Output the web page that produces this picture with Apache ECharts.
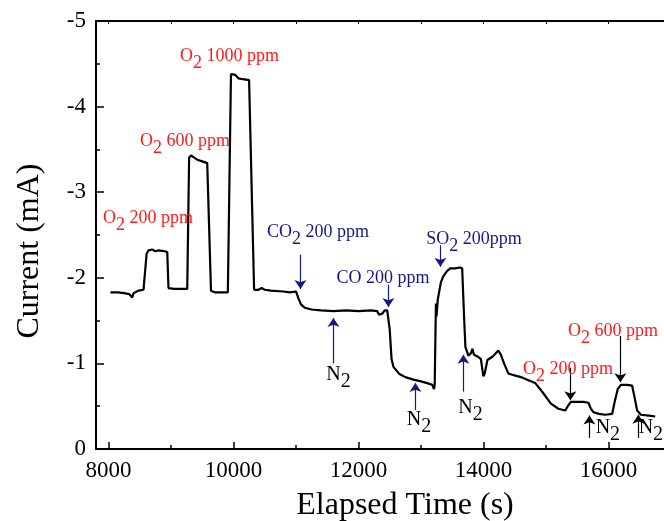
<!DOCTYPE html>
<html>
<head>
<meta charset="utf-8">
<script src="https://cdn.jsdelivr.net/npm/echarts@6/dist/echarts.min.js"></script>
<style>
html, body { margin: 0; padding: 0; background: #fff; }
#chart { width: 664px; height: 521px; }
</style>
</head>
<body>
<div id="chart"></div>
<script>
// elapsed time (s) and current (mA)
const timeS = [
  8030, 8150, 8250, 8330, 8380, 8400, 8480, 8560, 8590, 8610, 8640, 8700, 8750, 8800, 8900, 8940,
  8960, 9050, 9150, 9260, 9290, 9320, 9360, 9420, 9500, 9580, 9610, 9640, 9700, 9800, 9910,
  9960, 9990, 10030, 10080, 10150, 10250, 10280, 10330, 10400, 10450, 10500, 10600, 10800, 10900,
  11000, 11040, 11080, 11140, 11250, 11400, 11600, 11800, 12000, 12200, 12300, 12330, 12380, 12420,
  12460, 12500, 12530, 12560, 12650, 12750, 12880, 13000, 13100, 13180, 13210, 13220, 13240, 13250,
  13270, 13320, 13360, 13420, 13470, 13550, 13620, 13660, 13690, 13712, 13760, 13800, 13824, 13850,
  13920, 13960, 13985, 14000, 14020, 14064, 14150, 14200, 14240, 14280, 14330, 14400, 14450, 14500,
  14600, 14700, 14830, 14950, 15080, 15200, 15310, 15350, 15400, 15450, 15600, 15680, 15720, 15760,
  15850, 15950, 16060, 16100, 16150, 16200, 16300, 16380, 16420, 16460, 16520, 16650, 16750
];
const currentMA = [
  -1.83, -1.83, -1.82, -1.81, -1.77, -1.82, -1.85, -1.86, -1.87, -2.28, -2.32, -2.33, -2.31, -2.32, -2.31, -2.30,
  -1.88, -1.87, -1.87, -1.87, -3.40, -3.43, -3.41, -3.38, -3.36, -3.34, -3.33, -1.85, -1.83, -1.83, -1.83,
  -4.38, -4.40, -4.37, -4.33, -4.32, -4.31, -4.30, -1.86, -1.86, -1.88, -1.86, -1.85, -1.84, -1.83,
  -1.84, -1.76, -1.69, -1.65, -1.63, -1.62, -1.61, -1.62, -1.61, -1.62, -1.61, -1.57, -1.58, -1.62,
  -1.62, -1.40, -1.05, -0.96, -0.88, -0.84, -0.81, -0.79, -0.77, -0.75, -0.70, -0.74, -1.70, -1.55,
  -1.75, -1.95, -2.02, -2.08, -2.11, -2.11, -2.12, -2.11, -1.55, -1.19, -1.09, -1.12, -1.17, -1.10,
  -1.075, -1.05, -0.92, -0.85, -0.88, -1.04, -1.08, -1.12, -1.15, -1.10, -1.00, -0.88, -0.87, -0.86,
  -0.84, -0.81, -0.77, -0.66, -0.53, -0.47, -0.45, -0.50, -0.55, -0.55, -0.55, -0.54, -0.47, -0.43,
  -0.41, -0.40, -0.41, -0.55, -0.70, -0.75, -0.75, -0.74, -0.60, -0.45, -0.40, -0.39, -0.38
];

const yTicks = [-5, -4, -3, -2, -1, 0];
const xMajor = [8000, 10000, 12000, 14000, 16000];
const xMinor = [9000, 11000, 13000, 15000];

// gas labels: name, subscript, rest of text
const gasName = ['O', 'O', 'O', 'CO', 'CO', 'SO', 'O', 'O'];
const gasSub = ['2', '2', '2', '2', '', '2', '2', '2'];
const gasRest = [' 200 ppm', ' 600 ppm', ' 1000 ppm', ' 200 ppm', 'CO 200 ppm', ' 200ppm', ' 200 ppm', ' 600 ppm'];
const gasX = [8632, 9224, 9936, 11352, 12392, 13848, 15352, 16072];
const gasY = [-2.69, -3.59, -4.59, -2.53, -2.00, -2.45, -0.935, -1.38];
const gasBlue = [0, 0, 0, 1, 1, 1, 0, 0];

// N2 labels
const n2X = [11680, 12968, 13792, 15992, 16680];
const n2Y = [-0.865, -0.345, -0.485, -0.25, -0.25];

// arrows: time, start and tip current
const arrowX = [11072, 12480, 13312, 11600, 12912, 13680, 15392, 16192, 15696, 16480];
const arrowFrom = [-2.27, -1.92, -2.38, -1.0, -0.455, -0.67, -0.95, -1.32, -0.13, -0.13];
const arrowTo = [-1.87, -1.66, -2.13, -1.53, -0.77, -1.10, -0.57, -0.78, -0.39, -0.40];
const arrowBlue = [1, 1, 1, 1, 1, 1, 0, 0, 0, 0];

const FONT = '"Liberation Serif", "Times New Roman", serif';
const RED = '#ff1a1a';
const BLUE = '#16168a';

const chart = echarts.init(document.getElementById('chart'));

const seriesData = timeS.map((t, i) => [t, currentMA[i]]);

const labelPoints = gasX.map((x, i) => {
  const text = gasSub[i]
    ? '{m|' + gasName[i] + '}{s|' + gasSub[i] + '}{m|' + gasRest[i] + '}'
    : '{m|' + gasRest[i] + '}';
  return {
    coord: [x, gasY[i]],
    label: { formatter: text, color: gasBlue[i] ? BLUE : RED }
  };
}).concat(n2X.map((x, i) => ({
  coord: [x, n2Y[i]],
  label: { formatter: '{n|N}{ns|2}', color: '#000' }
})));

const arrows = arrowX.map((x, i) => [
  { coord: [x, arrowFrom[i]], lineStyle: { color: arrowBlue[i] ? BLUE : '#000' } },
  { coord: [x, arrowTo[i]] }
]);

const option = {
  animation: false,
  grid: { left: 96, right: 0, top: 21, bottom: 72, outerBoundsMode: 'none' },
  xAxis: [
    {
      type: 'value',
      position: 'bottom',
      min: 7800,
      max: 16890,
      name: 'Elapsed Time (s)',
      nameLocation: 'middle',
      nameGap: 41,
      nameTextStyle: { fontFamily: FONT, fontSize: 32, color: '#000', padding: [0, 0, 0, 50] },
      axisLine: { lineStyle: { color: '#000', width: 2 } },
      axisTick: { inside: true, length: 7, customValues: xMajor, lineStyle: { color: '#000', width: 1.5 } },
      axisLabel: {
        customValues: xMajor, fontFamily: FONT, fontSize: 23, color: '#000', margin: 10,
        formatter: v => String(v)
      },
      splitLine: { show: false }
    },
    {
      type: 'value',
      position: 'top',
      min: 7800,
      max: 16890,
      axisLine: { lineStyle: { color: '#000', width: 2 } },
      axisTick: { inside: true, length: 3, customValues: xMajor.concat(xMinor), lineStyle: { color: '#000', width: 1 } },
      axisLabel: { show: false },
      splitLine: { show: false }
    },
    {
      type: 'value',
      position: 'bottom',
      min: 7800,
      max: 16890,
      axisLine: { show: false },
      axisTick: { inside: true, length: 4, customValues: xMinor, lineStyle: { color: '#000', width: 1.5 } },
      axisLabel: { show: false },
      splitLine: { show: false }
    }
  ],
  yAxis: {
    type: 'value',
    inverse: true,
    min: -5,
    max: 0,
    interval: 1,
    name: 'Current (mA)',
    nameLocation: 'middle',
    nameGap: 50,
    nameTextStyle: { fontFamily: FONT, fontSize: 32, color: '#000', padding: [0, 32, 0, 0] },
    axisLine: { show: true, lineStyle: { color: '#000', width: 2 } },
    axisTick: { inside: true, length: 8, lineStyle: { color: '#000', width: 1.5 } },
    minorTick: { show: true, splitNumber: 2, length: 4, lineStyle: { color: '#000', width: 1.5 } },
    axisLabel: {
      fontFamily: FONT, fontSize: 23, color: '#000', margin: 10,
      formatter: v => (yTicks.indexOf(v) >= 0 ? String(v) : '')
    },
    splitLine: { show: false }
  },
  series: [
    {
      type: 'line',
      data: seriesData,
      showSymbol: false,
      lineStyle: { color: '#000', width: 2.2 },
      markLine: {
        silent: true,
        symbol: ['none', 'arrow'],
        symbolSize: 9,
        label: { show: false },
        lineStyle: { type: 'solid', width: 1.2 },
        emphasis: { disabled: true },
        data: arrows
      },
      markPoint: {
        silent: true,
        symbol: 'circle',
        symbolSize: 0,
        label: {
          show: true,
          position: 'inside',
          rich: {
            m: { fontFamily: FONT, fontSize: 18 },
            s: { fontFamily: FONT, fontSize: 18, padding: [14, 0, 0, 0] },
            n: { fontFamily: FONT, fontSize: 20 },
            ns: { fontFamily: FONT, fontSize: 20, padding: [14, 0, 0, 0] }
          }
        },
        data: labelPoints
      }
    }
  ]
};

chart.setOption(option);
</script>
</body>
</html>
